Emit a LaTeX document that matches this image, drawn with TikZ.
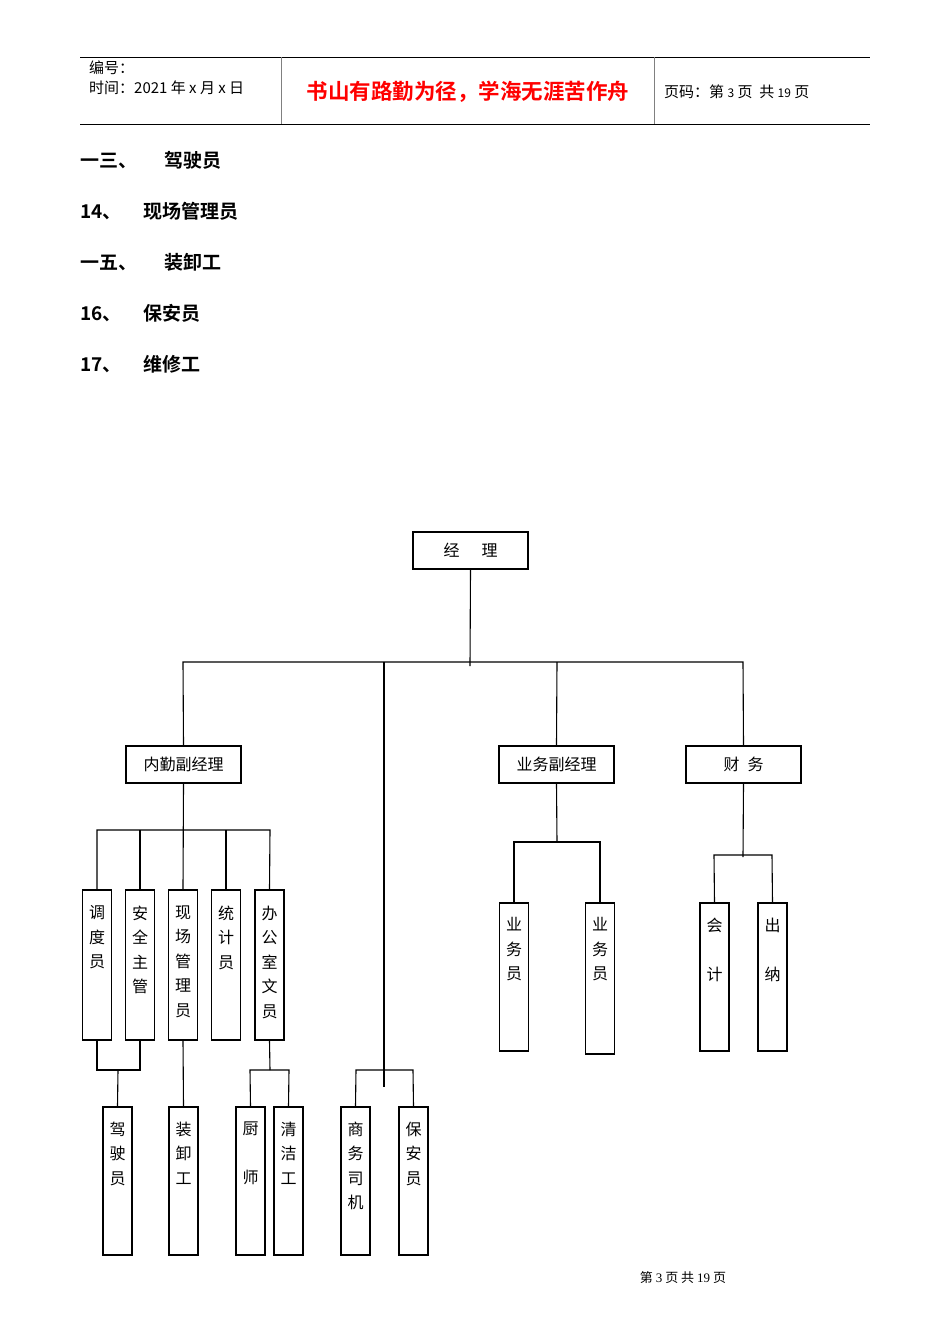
\documentclass[tikz,border=0pt]{standalone}
\usepackage{fontspec}
\setmainfont{Liberation Serif}
\newfontfamily\cjk{Noto Sans CJK SC}
\newfontfamily\cjkb{Noto Sans CJK SC Bold}
\begin{document}
\begin{tikzpicture}[x=1pt,y=-1pt,
  hbox/.style={draw,line width=1.1pt,minimum width=115pt,minimum height=37pt,inner sep=0pt,font=\cjk\fontsize{16}{16}\selectfont},
  vbox/.style={draw,line width=1.1pt,minimum width=29pt,inner sep=0pt},
  vtxt/.style={anchor=north,align=center,inner sep=0pt,font=\cjk\fontsize{16}{24.5}\selectfont},
  ln/.style={line width=1.1pt},
  lst/.style={anchor=west,inner sep=0pt,font=\cjkb\fontsize{19}{19}\selectfont}]
\useasboundingbox (0,0) rectangle (950,1344);
% header
\draw[line width=0.9pt] (80,57) -- (870,57);
\draw[line width=0.9pt] (80,124) -- (870,124);
\draw[gray,line width=0.9pt] (281,57) -- (281,124);
\draw[gray,line width=0.9pt] (654,57) -- (654,124);
\node[anchor=west,inner sep=0pt,font=\cjk\fontsize{15}{15}\selectfont] (h1) at (89,68) {编号：};
\node[anchor=west,inner sep=0pt,font=\cjk\fontsize{15}{15}\selectfont] (h2) at (89,88) {时间：2021 年 x 月 x 日};
\node[inner sep=0pt,text=red,font=\cjkb\fontsize{21.5}{21.5}\selectfont] (h3) at (468,92) {书山有路勤为径，学海无涯苦作舟};
\node[anchor=west,inner sep=0pt,font=\cjk\fontsize{15}{15}\selectfont] (h4) at (664,92) {页码：第 {\fontsize{12}{12}\selectfont 3} 页\ \ 共 {\fontsize{12}{12}\selectfont 19} 页};
% list
\node[lst] (l1) at (80,160) {一三、\hspace{27pt}驾驶员};
\node[lst] (l2) at (80,211) {14、\hspace{22pt}现场管理员};
\node[lst] (l3) at (80,262) {一五、\hspace{27pt}装卸工};
\node[lst] (l4) at (80,313) {16、\hspace{22pt}保安员};
\node[lst] (l5) at (80,364) {17、\hspace{22pt}维修工};
% chart top
\node[hbox] (jl) at (470.5,550.5) {经\hspace{22pt}理};
\node[hbox] (nq) at (183.5,764.5) {内勤副经理};
\node[hbox] (yw) at (556.5,764.5) {业务副经理};
\node[hbox] (cw) at (743.5,764.5) {财\hspace{8pt}务};
\coordinate (jb) at (470,666);
\draw[ln] (jl.south) -- (jb);
\draw[ln] (nq.north) -- (183,662) -- (743,662) -- (cw.north);
\draw[ln] (yw.north) -- (557,662);
% tall boxes
\foreach \n/\x/\t in {dd/97/调\\度\\员, aq/140/安\\全\\主\\管, xc/183/现\\场\\管\\理\\员, tj/226/统\\计\\员, bg/269.5/办\\公\\室\\文\\员}{
  \node[vbox,minimum height=150pt] (\n) at (\x,965) {};
  \node[vtxt] at ([yshift=-16pt]\n.north) {\t};
}
\draw[ln] (nq.south) -- (xc.north);
\draw[ln] (dd.north) -- (97,830) -- (270,830) -- (bg.north);
\draw[ln] (aq.north) -- (140,830);
\draw[ln] (tj.north) -- (226,830);
% lower
\foreach \n/\x/\t in {js/117.5/驾\\驶\\员, zx/183.5/装\\卸\\工, cs/250.5/厨\\\\师, qj/288.5/清\\洁\\工, sw/355.5/商\\务\\司\\机, ba/413.5/保\\安\\员}{
  \node[vbox,minimum height=148pt] (\n) at (\x,1181) {};
  \node[vtxt] at ([yshift=-15pt]\n.north) {\t};
}
\draw[ln] (dd.south) -- (97,1070) -- (140,1070) -- (aq.south);
\draw[ln] (118,1070) -- (js.north);
\draw[ln] (xc.south) -- (zx.north);
\draw[ln] (bg.south) -- (270,1070);
\draw[ln] (cs.north) -- (250,1070) -- (289,1070) -- (qj.north);
\draw[ln] (384,662) -- (384,1087);
\draw[ln] (sw.north) -- (356,1070) -- (413,1070) -- (ba.north);
% yewu
\node[vbox,minimum height=148pt] (y1) at (514,977) {};
\node[vtxt] at ([yshift=-15pt]y1.north) {业\\务\\员};
\node[vbox,minimum height=151pt] (y2) at (600,978.5) {};
\node[vtxt] at ([yshift=-15pt]y2.north) {业\\务\\员};
\draw[ln] (yw.south) -- (557,842);
\draw[ln] (y1.north) -- (514,842) -- (600,842) -- (y2.north);
% caiwu
\node[vbox,minimum height=148pt] (kj) at (714.5,977) {};
\node[vtxt] at ([yshift=-15pt]kj.north) {会\\\\计};
\node[vbox,minimum height=148pt] (cn) at (772.5,977) {};
\node[vtxt] at ([yshift=-15pt]cn.north) {出\\\\纳};
\draw[ln] (cw.south) -- (743,857);
\draw[ln] (kj.north) -- (714,855) -- (772,855) -- (cn.north);
% footer
\node[inner sep=0pt,font=\cjk\fontsize{13}{13}\selectfont] (ft) at (683,1278) {第 {\rmfamily 3} 页 共 {\rmfamily 19} 页};
\end{tikzpicture}
\end{document}
